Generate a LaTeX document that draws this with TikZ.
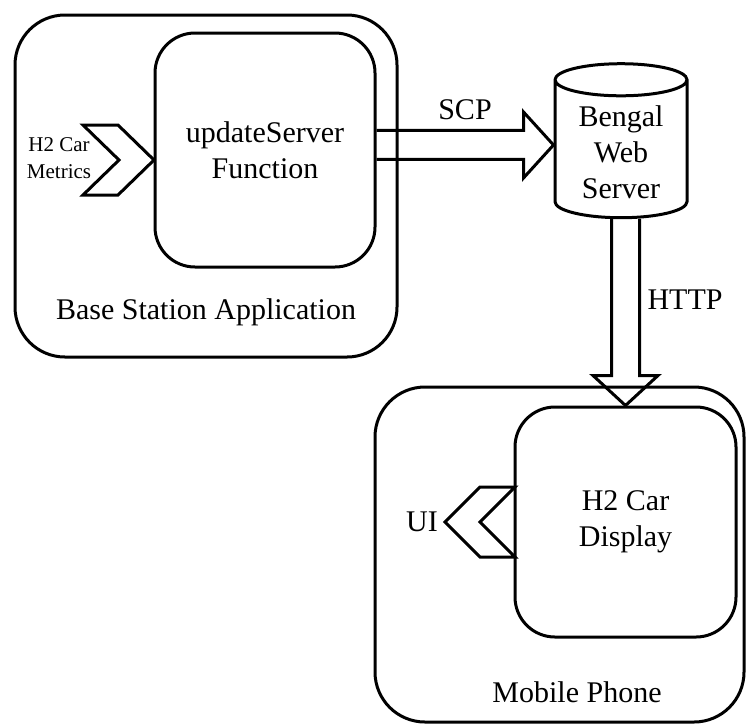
\documentclass[tikz,border=0pt]{standalone}
\usepackage{fontspec}
\setmainfont{Liberation Serif}
\usetikzlibrary{shapes.geometric,calc}

\begin{document}
\begin{tikzpicture}[x=1pt,y=-1pt,
    outerbox/.style={draw, line width=3pt, rounded corners=50pt},
    innerbox/.style={draw, line width=3pt, rounded corners=40pt, align=center, font=\fontsize{30pt}{36pt}\selectfont},
    bigtext/.style={font=\fontsize{30pt}{36pt}\selectfont, align=center},
    smalltext/.style={font=\fontsize{21pt}{27pt}\selectfont, align=center},
    fatarrow/.style={draw, line width=3pt, line join=miter}]
    \useasboundingbox (0,0) rectangle (746,724);
    % Base Station
    \node[outerbox, minimum width=382pt, minimum height=342pt] (Base) at (206,186) {};
    \node[bigtext] (Base-Text) at (206,312) {Base Station Application};
    \node[innerbox, minimum width=220pt, minimum height=234pt] (Update) at (265,150) {updateServer\\Function};
    \draw[fatarrow] (83,125) -- (118,125) -- (154,160) -- (118,195) -- (83,195) -- (119,160) -- cycle;
    \node[smalltext] (Metrics) at (59,158) {H2 Car\\Metrics};
    % Web Server
    \node[cylinder, shape border rotate=90, draw, line width=3pt, aspect=0.35,
          minimum width=132pt, minimum height=154pt, bigtext] (Server) at (621,152) {Bengal\\Web\\Server};
    % Mobile Phone
    \node[outerbox, minimum width=369pt, minimum height=335pt] (Phone) at (559.5,554.5) {};
    \node[bigtext] (Phone-Text) at (577,692) {Mobile Phone};
    \node[innerbox, minimum width=221pt, minimum height=230pt] (Display) at (625.5,522) {H2 Car\\Display};
    \draw[fatarrow] (515,487) -- (480,487) -- (445,522) -- (480,557) -- (515,557) -- (480,522) -- cycle;
    \node[bigtext] (UI) at (422,522) {UI};
    % Arrows
    \draw[fatarrow] let \p1=(Update.east), \p2=([yshift=7pt]Server.west) in
        (\x1,\y2+14.5pt) -- (\x2-30pt,\y2+14.5pt) -- (\x2-30pt,\y2+33pt) -- (\p2)
        -- (\x2-30pt,\y2-33pt) -- (\x2-30pt,\y2-14.5pt) -- (\x1,\y2-14.5pt);
    \node[bigtext] (SCP) at (465,110) {SCP};
    \draw[fatarrow] let \p1=(Server.south), \p2=(Display.north) in
        (\x2-14pt,\y1) -- (\x2-14pt,\y2+30pt) -- (\x2-32.5pt,\y2+30pt) -- (\p2)
        -- (\x2+32.5pt,\y2+30pt) -- (\x2+14pt,\y2+30pt) -- (\x2+14pt,\y1);
    \node[bigtext] (HTTP) at (685,300) {HTTP};
\end{tikzpicture}
\end{document}
